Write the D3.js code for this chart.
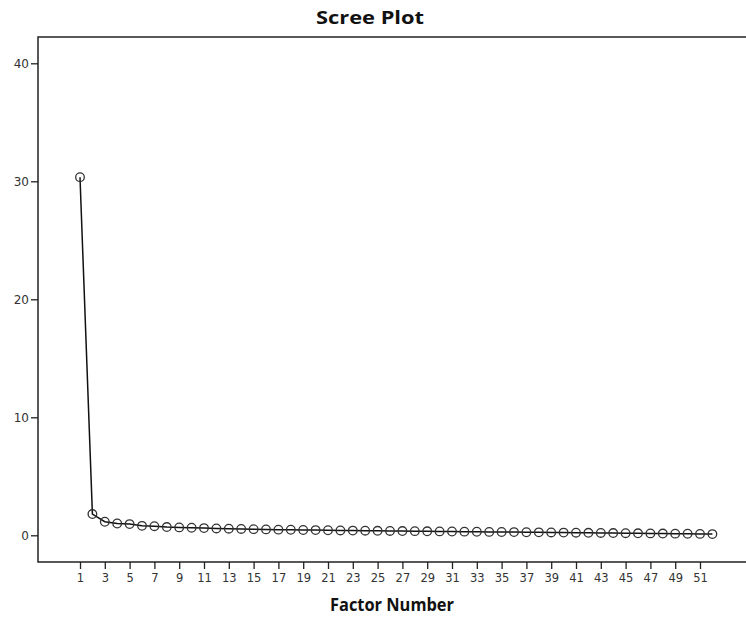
<!DOCTYPE html>
<html><head><meta charset="utf-8">
<script src="https://cdn.jsdelivr.net/npm/d3@7"></script>
<style>body{margin:0;background:#fff}svg{display:block}</style>
</head><body>
<svg id="c" width="746" height="618"></svg>
<script>
const title = "Scree Plot";
const xLabel = "Factor Number";
const factors = d3.range(1, 53);
const eigenvalues = [30.35,1.80,1.15,1.00,0.95,0.80,0.77,0.70,0.67,0.64,0.61,0.58,0.56,0.54,0.52,0.50,0.48,0.47,0.45,0.44,0.43,0.41,0.40,0.39,0.38,0.37,0.36,0.35,0.34,0.33,0.32,0.31,0.30,0.29,0.28,0.27,0.26,0.25,0.24,0.23,0.22,0.21,0.20,0.19,0.18,0.17,0.16,0.15,0.14,0.13,0.12,0.10];
const yTicks = [0,10,20,30,40];
const xTicks = d3.range(1, 52, 2);

const svg = d3.select("#c");
const L = 38, R = 746, T = 37, B = 562;
const x = d3.scaleLinear().domain([1, 51]).range([80, 700]);
const y = d3.scaleLinear().domain([0, 40]).range([535.3, 63.3]);

const tickFont = "'DejaVu Sans', sans-serif";
const titleFont = "'Liberation Sans Narrow', 'Open Sans', sans-serif";

// frame
svg.append("path").attr("d", `M${R},${T}H${L}V${B}H${R}`).attr("fill","none").attr("stroke","#222").attr("stroke-width",1.5);

// y axis
const ya = svg.append("g").attr("transform", `translate(${L},0)`)
  .call(d3.axisLeft(y).tickValues(yTicks).tickSize(7).tickPadding(2).tickFormat(d3.format("d")));
ya.select(".domain").remove();
ya.selectAll("line").attr("stroke","#222").attr("stroke-width",1.3);
ya.selectAll("text").attr("font-family", tickFont).attr("font-size", 12).attr("fill","#333");

// x axis
const xa = svg.append("g").attr("transform", `translate(0,${B})`)
  .call(d3.axisBottom(x).tickValues(xTicks).tickSize(7).tickPadding(5).tickFormat(d3.format("d")));
xa.select(".domain").remove();
xa.selectAll("line").attr("stroke","#222").attr("stroke-width",1.3);
xa.selectAll("text").attr("font-family", tickFont).attr("font-size", 11.5).attr("fill","#333");

// line
const pts = factors.map((f,i)=>[f, eigenvalues[i]]);
svg.append("path").datum(pts)
  .attr("d", d3.line().x(d=>x(d[0])).y(d=>y(d[1])))
  .attr("fill","none").attr("stroke","#111").attr("stroke-width",1.5);
svg.append("g").selectAll("circle").data(pts).join("circle")
  .attr("cx", d=>x(d[0])).attr("cy", d=>y(d[1])).attr("r", 4.3)
  .attr("fill","none").attr("stroke","#333").attr("stroke-width",1.3);

// title
svg.append("text").attr("x", 370).attr("y", 24).attr("text-anchor","middle")
  .attr("font-family", titleFont).attr("font-weight","bold").attr("font-size",18).attr("fill","#111")
  .attr("textLength", 108).attr("lengthAdjust","spacingAndGlyphs").text(title);
svg.append("text").attr("x", 392).attr("y", 611).attr("text-anchor","middle")
  .attr("font-family", titleFont).attr("font-weight","bold").attr("font-size",18).attr("fill","#111")
  .attr("textLength", 124).attr("lengthAdjust","spacingAndGlyphs").text(xLabel);
</script>
</body></html>
